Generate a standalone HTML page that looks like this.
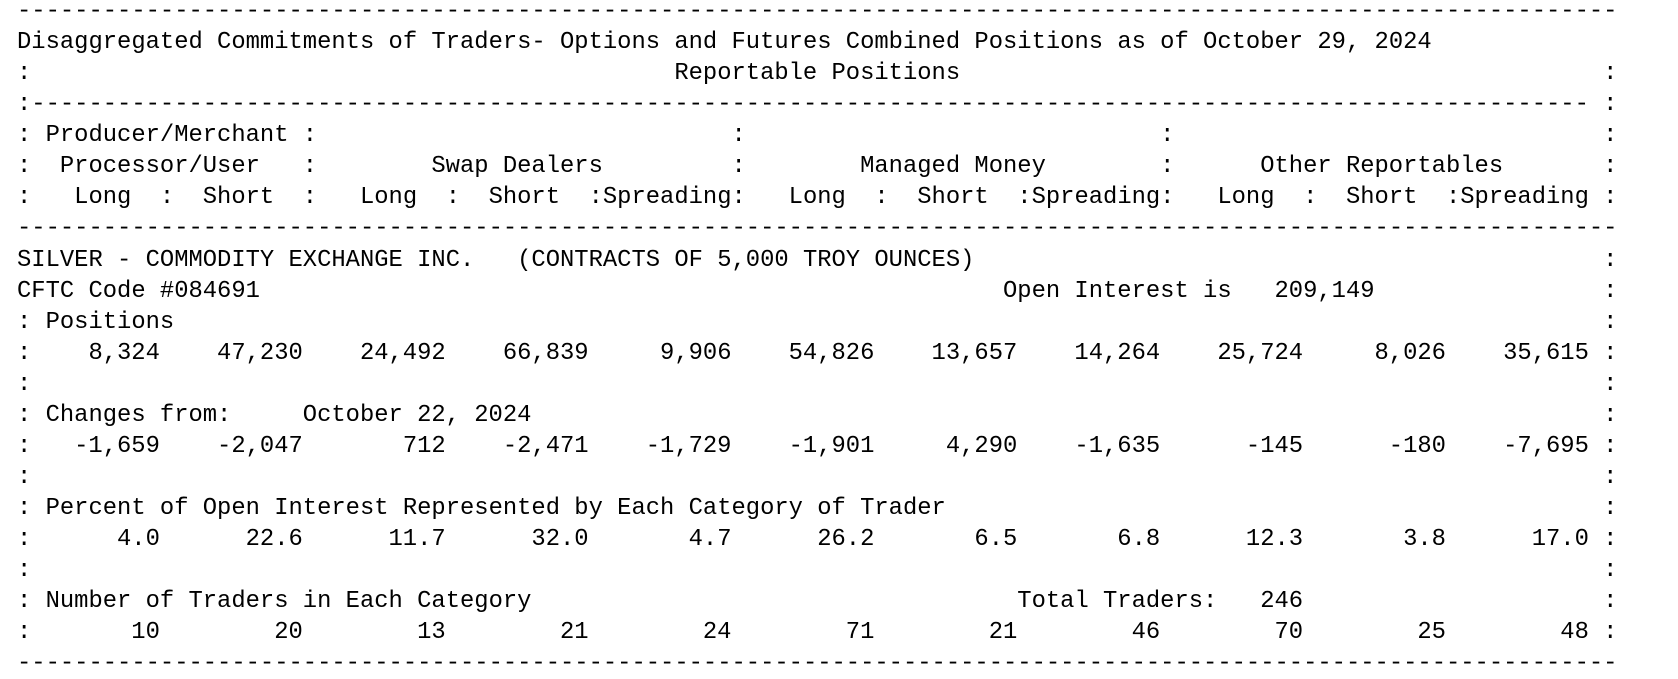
<!DOCTYPE html>
<html><head><meta charset="utf-8"><style>
html,body{margin:0;padding:0;background:#fff;}
body{width:1678px;height:667px;overflow:hidden;position:relative;}
#c{position:absolute;left:17px;top:-4px;font-family:"Liberation Mono",monospace;font-size:23.82px;color:#000;}
.l{position:relative;height:31.07px;line-height:31.07px;white-space:pre;width:1660px;}
.l span{position:absolute;top:0;}
.r{left:111ch;}
.n{transform:translateX(-100%);}
</style></head><body><div id="c">
<div class="l">----------------------------------------------------------------------------------------------------------------</div>
<div class="l">Disaggregated Commitments of Traders- Options and Futures Combined Positions as of October 29, 2024</div>
<div class="l">:<span style="left:46ch">Reportable Positions</span><span class="r">:</span></div>
<div class="l">:-------------------------------------------------------------------------------------------------------------<span class="r">:</span></div>
<div class="l">: Producer/Merchant :<span style="left:50ch">:</span><span style="left:80ch">:</span><span class="r">:</span></div>
<div class="l">:  Processor/User   :<span style="left:29ch">Swap Dealers</span><span style="left:50ch">:</span><span style="left:59ch">Managed Money</span><span style="left:80ch">:</span><span style="left:87ch">Other Reportables</span><span class="r">:</span></div>
<div class="l">:   Long  :  Short  :   Long  :  Short  :Spreading:   Long  :  Short  :Spreading:   Long  :  Short  :Spreading :</div>
<div class="l">----------------------------------------------------------------------------------------------------------------</div>
<div class="l">SILVER - COMMODITY EXCHANGE INC.   (CONTRACTS OF 5,000 TROY OUNCES)<span class="r">:</span></div>
<div class="l">CFTC Code #084691<span style="left:69ch">Open Interest is   209,149</span><span class="r">:</span></div>
<div class="l">: Positions<span class="r">:</span></div>
<div class="l">:<span class="n" style="left:10ch">8,324</span><span class="n" style="left:20ch">47,230</span><span class="n" style="left:30ch">24,492</span><span class="n" style="left:40ch">66,839</span><span class="n" style="left:50ch">9,906</span><span class="n" style="left:60ch">54,826</span><span class="n" style="left:70ch">13,657</span><span class="n" style="left:80ch">14,264</span><span class="n" style="left:90ch">25,724</span><span class="n" style="left:100ch">8,026</span><span class="n" style="left:110ch">35,615</span><span class="r">:</span></div>
<div class="l">:<span class="r">:</span></div>
<div class="l">: Changes from:<span style="left:20ch">October 22, 2024</span><span class="r">:</span></div>
<div class="l">:<span class="n" style="left:10ch">-1,659</span><span class="n" style="left:20ch">-2,047</span><span class="n" style="left:30ch">712</span><span class="n" style="left:40ch">-2,471</span><span class="n" style="left:50ch">-1,729</span><span class="n" style="left:60ch">-1,901</span><span class="n" style="left:70ch">4,290</span><span class="n" style="left:80ch">-1,635</span><span class="n" style="left:90ch">-145</span><span class="n" style="left:100ch">-180</span><span class="n" style="left:110ch">-7,695</span><span class="r">:</span></div>
<div class="l">:<span class="r">:</span></div>
<div class="l">: Percent of Open Interest Represented by Each Category of Trader<span class="r">:</span></div>
<div class="l">:<span class="n" style="left:10ch">4.0</span><span class="n" style="left:20ch">22.6</span><span class="n" style="left:30ch">11.7</span><span class="n" style="left:40ch">32.0</span><span class="n" style="left:50ch">4.7</span><span class="n" style="left:60ch">26.2</span><span class="n" style="left:70ch">6.5</span><span class="n" style="left:80ch">6.8</span><span class="n" style="left:90ch">12.3</span><span class="n" style="left:100ch">3.8</span><span class="n" style="left:110ch">17.0</span><span class="r">:</span></div>
<div class="l">:<span class="r">:</span></div>
<div class="l">: Number of Traders in Each Category<span style="left:70ch">Total Traders:   246</span><span class="r">:</span></div>
<div class="l">:<span class="n" style="left:10ch">10</span><span class="n" style="left:20ch">20</span><span class="n" style="left:30ch">13</span><span class="n" style="left:40ch">21</span><span class="n" style="left:50ch">24</span><span class="n" style="left:60ch">71</span><span class="n" style="left:70ch">21</span><span class="n" style="left:80ch">46</span><span class="n" style="left:90ch">70</span><span class="n" style="left:100ch">25</span><span class="n" style="left:110ch">48</span><span class="r">:</span></div>
<div class="l">----------------------------------------------------------------------------------------------------------------</div>
</div></body></html>
